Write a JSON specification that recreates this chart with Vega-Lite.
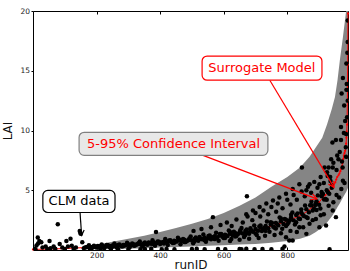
{
"$schema":"https://vega.github.io/schema/vega-lite/v6.json",
"width":315,"height":239,
"autosize":{"type":"none"},
"padding":{"left":33,"top":11,"right":2,"bottom":21},
"config":{"view":{"stroke":"black","strokeWidth":1},
"axis":{"domain":false,"grid":false,"labelFont":"DejaVu Sans","labelFontSize":7.5,"labelColor":"#222","titleFont":"DejaVu Sans","titleFontSize":12,"titleFontWeight":"normal","titleColor":"#111","tickColor":"black","tickWidth":1},
"text":{"font":"DejaVu Sans"}},
"resolve":{"axis":{"x":"independent","y":"independent"}},
"datasets":{
"ci":[{"r":160,"lo":0.2,"hi":0.2},{"r":200,"lo":0.05,"hi":0.45},{"r":250,"lo":0.08,"hi":0.7},{"r":300,"lo":0.1,"hi":0.95},{"r":350,"lo":0.15,"hi":1.2},{"r":400,"lo":0.2,"hi":1.5},{"r":450,"lo":0.25,"hi":1.85},{"r":500,"lo":0.3,"hi":2.2},{"r":550,"lo":0.35,"hi":2.6},{"r":600,"lo":0.4,"hi":3.1},{"r":650,"lo":0.45,"hi":3.7},{"r":700,"lo":0.5,"hi":4.4},{"r":750,"lo":0.6,"hi":5.3},{"r":800,"lo":0.75,"hi":6.1},{"r":840,"lo":0.95,"hi":6.9},{"r":870,"lo":1.2,"hi":7.8},{"r":890,"lo":1.5,"hi":8.6},{"r":910,"lo":1.9,"hi":9.4},{"r":925,"lo":2.3,"hi":10.5},{"r":940,"lo":2.8,"hi":11.8},{"r":950,"lo":3.2,"hi":12.8},{"r":958,"lo":3.6,"hi":14.2},{"r":965,"lo":3.9,"hi":15.8},{"r":975,"lo":4.4,"hi":17.8},{"r":986,"lo":4.9,"hi":20.2},{"r":991,"lo":5.2,"hi":21}],
"sur":[{"r":0,"s":0.05},{"r":50,"s":0.08},{"r":100,"s":0.12},{"r":160,"s":0.2},{"r":200,"s":0.28},{"r":250,"s":0.35},{"r":300,"s":0.42},{"r":350,"s":0.52},{"r":400,"s":0.62},{"r":450,"s":0.72},{"r":500,"s":0.85},{"r":550,"s":1.0},{"r":600,"s":1.18},{"r":650,"s":1.4},{"r":700,"s":1.65},{"r":750,"s":2.0},{"r":800,"s":2.4},{"r":850,"s":3.0},{"r":880,"s":3.6},{"r":900,"s":4.0},{"r":920,"s":4.6},{"r":941,"s":5.25},{"r":946,"s":5.45},{"r":951,"s":5.65},{"r":954,"s":5.9},{"r":957,"s":6.1},{"r":961,"s":6.25},{"r":964,"s":6.4},{"r":967,"s":6.6},{"r":970,"s":6.8},{"r":972,"s":7.0},{"r":974,"s":7.3},{"r":976,"s":7.6},{"r":978,"s":7.9},{"r":980,"s":8.1},{"r":982,"s":8.3},{"r":984,"s":8.6},{"r":985,"s":8.9},{"r":986,"s":9.4},{"r":987,"s":9.9},{"r":988,"s":10.5},{"r":989,"s":12.5},{"r":990,"s":15.5},{"r":991,"s":19.8}],
"clm":[
{"r":5,"v":0.1},{"r":8,"v":0.05},{"r":11,"v":0.38},{"r":15,"v":1.05},{"r":16,"v":0.55},{"r":20,"v":0.75},{"r":26,"v":0.65},{"r":30,"v":0.2},{"r":40,"v":0.3},{"r":45,"v":0.08},{"r":52,"v":0.75},{"r":55,"v":0.15},{"r":65,"v":0.3},{"r":70,"v":0.1},{"r":78,"v":2.15},{"r":84,"v":0.5},{"r":92,"v":0.2},{"r":100,"v":0.08},{"r":105,"v":0.75},{"r":110,"v":0.3},{"r":118,"v":0.95},{"r":122,"v":0.35},{"r":128,"v":0.1},{"r":135,"v":0.2},{"r":147,"v":1.6},{"r":149,"v":1.45},{"r":150,"v":1.35},{"r":155,"v":0.65},{"r":160,"v":0.15},
{"r":180,"v":0.08},{"r":212,"v":0.06},{"r":245,"v":0.1},{"r":268,"v":0.07},{"r":300,"v":0.09},{"r":338,"v":0.06},{"r":352,"v":0.08},{"r":372,"v":0.1},{"r":405,"v":0.07},{"r":420,"v":0.09},{"r":445,"v":0.06},{"r":500,"v":0.08},{"r":515,"v":0.1},{"r":540,"v":0.06},{"r":582,"v":0.09},{"r":605,"v":0.07},{"r":650,"v":0.08},{"r":656,"v":0.06},{"r":671,"v":0.1},{"r":697,"v":0.07},{"r":722,"v":0.09},{"r":750,"v":0.06},{"r":785,"v":0.1},{"r":933,"v":0.07},
{"r":164,"v":0.22},{"r":172,"v":0.25},{"r":180,"v":0.24},{"r":188,"v":0.27},{"r":196,"v":0.26},{"r":204,"v":0.3},{"r":212,"v":0.28},{"r":220,"v":0.33},{"r":228,"v":0.3},{"r":236,"v":0.35},{"r":244,"v":0.32},{"r":252,"v":0.37},{"r":260,"v":0.35},{"r":268,"v":0.4},{"r":276,"v":0.36},{"r":284,"v":0.42},{"r":292,"v":0.39},{"r":300,"v":0.45},{"r":308,"v":0.41},{"r":316,"v":0.48},{"r":324,"v":0.44},{"r":332,"v":0.52},{"r":340,"v":0.47},{"r":348,"v":0.55},{"r":356,"v":0.5},{"r":364,"v":0.59},{"r":372,"v":0.53},{"r":380,"v":0.62},{"r":388,"v":0.57},{"r":396,"v":0.65},{"r":404,"v":0.6},{"r":412,"v":0.69},{"r":420,"v":0.63},{"r":428,"v":0.73},{"r":436,"v":0.66},{"r":444,"v":0.77},{"r":452,"v":0.7},{"r":460,"v":0.81},{"r":468,"v":0.74},{"r":476,"v":0.85},{"r":484,"v":0.76},{"r":492,"v":0.89},{"r":500,"v":0.8},{"r":508,"v":0.93},{"r":516,"v":0.85},{"r":524,"v":0.99},{"r":532,"v":0.9},{"r":540,"v":1.05},{"r":548,"v":0.95},{"r":556,"v":1.1},{"r":564,"v":1.0},{"r":572,"v":1.16},{"r":580,"v":1.06},{"r":588,"v":1.22},{"r":596,"v":1.1},{"r":604,"v":1.27},{"r":612,"v":1.17},{"r":620,"v":1.36},{"r":628,"v":1.24},{"r":636,"v":1.43},{"r":644,"v":1.31},{"r":652,"v":1.51},{"r":660,"v":1.38},{"r":668,"v":1.59},{"r":676,"v":1.45},{"r":684,"v":1.67},{"r":692,"v":1.52},{"r":700,"v":1.75},{"r":708,"v":1.61},{"r":716,"v":1.88},{"r":724,"v":1.72},{"r":732,"v":2.01},{"r":740,"v":1.83},{"r":748,"v":2.14},{"r":756,"v":1.95},{"r":764,"v":2.27},{"r":772,"v":2.06},{"r":780,"v":2.4},{"r":788,"v":2.17},{"r":796,"v":2.53},{"r":804,"v":2.3},{"r":812,"v":2.72},{"r":820,"v":2.48},{"r":828,"v":2.93},{"r":836,"v":2.64},{"r":844,"v":3.13},{"r":852,"v":2.85},{"r":860,"v":3.42},{"r":868,"v":3.15},{"r":876,"v":3.75},{"r":884,"v":3.45},{"r":892,"v":4.08},{"r":900,"v":3.78},{"r":908,"v":4.5},{"r":916,"v":4.22},{"r":924,"v":5.0},{"r":932,"v":4.7},{"r":940,"v":5.45},
{"r":168,"v":0.23},{"r":176,"v":0.39},{"r":184,"v":0.12},{"r":192,"v":0.35},{"r":200,"v":0.2},{"r":208,"v":0.29},{"r":216,"v":0.46},{"r":224,"v":0.15},{"r":232,"v":0.41},{"r":240,"v":0.26},{"r":248,"v":0.35},{"r":256,"v":0.54},{"r":264,"v":0.19},{"r":272,"v":0.47},{"r":280,"v":0.3},{"r":288,"v":0.4},{"r":296,"v":0.61},{"r":304,"v":0.23},{"r":312,"v":0.54},{"r":320,"v":0.36},{"r":328,"v":0.48},{"r":336,"v":0.71},{"r":344,"v":0.29},{"r":352,"v":0.63},{"r":360,"v":0.43},{"r":368,"v":0.56},{"r":376,"v":0.81},{"r":384,"v":0.35},{"r":392,"v":0.72},{"r":400,"v":0.5},{"r":408,"v":0.64},{"r":416,"v":0.92},{"r":424,"v":0.42},{"r":432,"v":0.82},{"r":440,"v":0.58},{"r":448,"v":0.73},{"r":456,"v":1.03},{"r":464,"v":0.49},{"r":472,"v":0.93},{"r":480,"v":0.66},{"r":488,"v":0.82},{"r":496,"v":1.14},{"r":504,"v":0.56},{"r":512,"v":1.04},{"r":520,"v":0.77},{"r":528,"v":0.94},{"r":536,"v":1.29},{"r":544,"v":0.68},{"r":552,"v":1.18},{"r":560,"v":0.89},{"r":568,"v":1.08},{"r":576,"v":1.45},{"r":584,"v":0.78},{"r":592,"v":1.33},{"r":600,"v":1.01},{"r":608,"v":1.22},{"r":616,"v":1.64},{"r":624,"v":0.92},{"r":632,"v":1.52},{"r":640,"v":1.18},{"r":648,"v":1.41},{"r":656,"v":1.84},{"r":664,"v":1.08},{"r":672,"v":1.72},{"r":680,"v":1.36},{"r":688,"v":1.59},{"r":696,"v":2.06},{"r":704,"v":1.25},{"r":712,"v":1.96},{"r":720,"v":1.58},{"r":728,"v":1.86},{"r":736,"v":2.38},{"r":744,"v":1.52},{"r":752,"v":2.27},{"r":760,"v":1.87},{"r":768,"v":2.16},{"r":776,"v":2.72},{"r":784,"v":1.78},{"r":792,"v":2.59},{"r":800,"v":2.15},{"r":808,"v":2.5},{"r":816,"v":3.14},{"r":824,"v":2.14},{"r":832,"v":3.06},{"r":840,"v":2.6},{"r":848,"v":2.98},{"r":856,"v":3.72},{"r":864,"v":2.68},{"r":872,"v":3.74},{"r":880,"v":3.3},{"r":888,"v":3.76},{"r":896,"v":4.57},{"r":904,"v":3.47},{"r":912,"v":4.69},{"r":920,"v":4.27},{"r":928,"v":4.84},{"r":936,"v":5.78},
{"r":172,"v":0.27},{"r":188,"v":0.22},{"r":204,"v":0.33},{"r":220,"v":0.26},{"r":236,"v":0.39},{"r":252,"v":0.3},{"r":268,"v":0.43},{"r":284,"v":0.33},{"r":300,"v":0.49},{"r":316,"v":0.38},{"r":332,"v":0.56},{"r":348,"v":0.44},{"r":364,"v":0.63},{"r":380,"v":0.49},{"r":396,"v":0.7},{"r":412,"v":0.55},{"r":428,"v":0.79},{"r":444,"v":0.61},{"r":460,"v":0.88},{"r":476,"v":0.67},{"r":492,"v":0.96},{"r":508,"v":0.73},{"r":524,"v":1.08},{"r":540,"v":0.82},{"r":556,"v":1.21},{"r":572,"v":0.91},{"r":588,"v":1.33},{"r":604,"v":1.0},{"r":620,"v":1.5},{"r":636,"v":1.13},{"r":652,"v":1.66},{"r":668,"v":1.25},{"r":684,"v":1.83},{"r":700,"v":1.38},{"r":716,"v":2.05},{"r":732,"v":1.6},{"r":748,"v":2.33},{"r":764,"v":1.8},{"r":780,"v":2.63},{"r":796,"v":2.0},{"r":812,"v":2.95},{"r":828,"v":2.33},{"r":844,"v":3.4},{"r":860,"v":2.75},{"r":876,"v":4.05},{"r":892,"v":3.35},{"r":908,"v":4.85},{"r":924,"v":4.2},{"r":940,"v":5.2},
{"r":387,"v":1.5},{"r":566,"v":2.75},{"r":673,"v":4.5},{"r":846,"v":6.9},{"r":817,"v":0.8},
{"r":505,"v":1.6},{"r":530,"v":1.75},{"r":560,"v":1.9},{"r":590,"v":2.1},{"r":610,"v":2.3},{"r":625,"v":2.0},{"r":640,"v":2.55},{"r":660,"v":2.3},{"r":675,"v":2.8},{"r":690,"v":2.5},{"r":700,"v":3.1},{"r":715,"v":2.8},{"r":725,"v":3.3},{"r":740,"v":3.0},{"r":750,"v":3.6},{"r":765,"v":3.2},{"r":770,"v":3.9},{"r":785,"v":3.5},{"r":800,"v":4.2},{"r":810,"v":3.8},{"r":820,"v":4.6},{"r":830,"v":4.2},{"r":845,"v":4.9},{"r":855,"v":4.5},{"r":865,"v":5.3},{"r":875,"v":4.8},{"r":885,"v":5.7},{"r":895,"v":5.2},{"r":905,"v":6.1},{"r":915,"v":5.6},{"r":925,"v":6.5},{"r":935,"v":6.1},{"r":945,"v":7.3},{"r":955,"v":6.7},{"r":965,"v":8.2},{"r":972,"v":7.4},{"r":978,"v":9.8},{"r":982,"v":10.8},{"r":984,"v":8.6},{"r":987,"v":13.9},{"r":989,"v":16.5},
{"r":620,"v":0.75},{"r":650,"v":0.85},{"r":680,"v":0.95},{"r":710,"v":1.0},{"r":730,"v":1.2},{"r":760,"v":1.25},{"r":780,"v":1.4},{"r":796,"v":1.07},{"r":806,"v":0.8},{"r":791,"v":0.3},{"r":810,"v":1.6},{"r":830,"v":1.5},{"r":838,"v":1.9},{"r":850,"v":1.9},{"r":860,"v":1.35},{"r":870,"v":2.2},{"r":880,"v":2.5},{"r":890,"v":2.6},{"r":901,"v":1.9},{"r":905,"v":2.9},{"r":915,"v":3.0},{"r":922,"v":2.05},{"r":930,"v":3.7},{"r":943,"v":3.3},{"r":945,"v":4.0},{"r":953,"v":2.75},{"r":955,"v":4.6},{"r":963,"v":4.4},{"r":970,"v":5.1},{"r":980,"v":5.6},
{"r":953,"v":9.2},{"r":969,"v":10.3},{"r":961,"v":7.6},{"r":943,"v":6.9},{"r":975,"v":5.8},{"r":910,"v":4.7},{"r":927,"v":6.2},{"r":901,"v":5.5},{"r":890,"v":3.9},{"r":870,"v":5.5},{"r":860,"v":5.0},{"r":838,"v":5.5},{"r":817,"v":5.1},{"r":796,"v":4.7},{"r":775,"v":4.4},{"r":755,"v":4.15},{"r":734,"v":3.9},{"r":713,"v":3.6},{"r":692,"v":3.3},{"r":671,"v":3.0},
{"r":979,"v":12.1},{"r":988,"v":11.1},{"r":969,"v":9.2},{"r":942,"v":9.0},{"r":985,"v":9.7},{"r":957,"v":7.9},{"r":938,"v":7.6},{"r":917,"v":6.9},{"r":930,"v":6.9},{"r":974,"v":6.9},{"r":985,"v":7.8},{"r":990,"v":19.2},{"r":990,"v":17.4},{"r":986,"v":15.6},{"r":975,"v":14.4},{"r":971,"v":13.1},{"r":986,"v":13.4},{"r":990,"v":12.5}
]},
"layer":[
{"data":{"name":"ci"},"mark":{"type":"area","color":"#858585","clip":true},
 "encoding":{"x":{"field":"r","type":"quantitative","scale":{"domain":[0,991],"nice":false,"zero":false},"axis":{"orient":"bottom","values":[200,400,600,800],"title":"runID","tickSize":3,"offset":-3,"labelPadding":1,"titlePadding":1}},
  "y":{"field":"lo","type":"quantitative","scale":{"domain":[0,20],"nice":false},"axis":{"orient":"left","values":[5,10,15,20],"title":"LAI","tickSize":2,"labelPadding":1.5,"titlePadding":5}},
  "y2":{"field":"hi"}}},
{"data":{"name":"sur"},"mark":{"type":"line","color":"red","strokeWidth":1,"point":{"filled":true,"size":5,"color":"red"}},
 "encoding":{"x":{"field":"r","type":"quantitative","axis":null},"y":{"field":"s","type":"quantitative","axis":null}}},
{"data":{"name":"clm"},"mark":{"type":"circle","color":"black","size":20,"opacity":1,"clip":true},
 "encoding":{"x":{"field":"r","type":"quantitative","axis":{"orient":"top","labels":false,"title":null,"values":[200,400,600,800],"tickSize":3,"offset":-3}},"y":{"field":"v","type":"quantitative","axis":null}}},
{"data":{"values":[{"a":745,"b":947,"c":14.21,"d":5.24}]},"mark":{"type":"rule","color":"red","strokeWidth":1.2},
 "encoding":{"x":{"field":"a","type":"quantitative","axis":null},"x2":{"field":"b"},"y":{"field":"c","type":"quantitative","axis":null},"y2":{"field":"d"}}},
{"data":{"values":[{"a":947,"c":5.24}]},"mark":{"type":"point","shape":"M-0.55,1L0,0L0.55,1","filled":false,"stroke":"red","strokeWidth":1.2,"size":130,"angle":149,"opacity":1},
 "encoding":{"x":{"field":"a","type":"quantitative","axis":null},"y":{"field":"c","type":"quantitative","axis":null}}},
{"data":{"values":[{"a":535,"b":893,"c":7.92,"d":4.28}]},"mark":{"type":"rule","color":"red","strokeWidth":1.2},
 "encoding":{"x":{"field":"a","type":"quantitative","axis":null},"x2":{"field":"b"},"y":{"field":"c","type":"quantitative","axis":null},"y2":{"field":"d"}}},
{"data":{"values":[{"a":893,"c":4.28}]},"mark":{"type":"point","shape":"M-0.55,1L0,0L0.55,1","filled":false,"stroke":"red","strokeWidth":1.2,"size":130,"angle":111,"opacity":1},
 "encoding":{"x":{"field":"a","type":"quantitative","axis":null},"y":{"field":"c","type":"quantitative","axis":null}}},
{"data":{"values":[{"a":148,"b":153,"c":3.14,"d":1.22}]},"mark":{"type":"rule","color":"black","strokeWidth":1.2},
 "encoding":{"x":{"field":"a","type":"quantitative","axis":null},"x2":{"field":"b"},"y":{"field":"c","type":"quantitative","axis":null},"y2":{"field":"d"}}},
{"data":{"values":[{"a":153,"c":1.22}]},"mark":{"type":"point","shape":"M-0.55,1L0,0L0.55,1","filled":false,"stroke":"black","strokeWidth":1.2,"size":110,"angle":176,"opacity":1},
 "encoding":{"x":{"field":"a","type":"quantitative","axis":null},"y":{"field":"c","type":"quantitative","axis":null}}},
{"data":{"values":[{"a":532,"b":909,"c":16.23,"d":14.21}]},"mark":{"type":"rect","fill":"white","stroke":"red","strokeWidth":1.2,"cornerRadius":5},
 "encoding":{"x":{"field":"a","type":"quantitative","axis":null},"x2":{"field":"b"},"y":{"field":"c","type":"quantitative","axis":null},"y2":{"field":"d"}}},
{"data":{"values":[{"a":145,"b":739,"c":9.85,"d":7.92}]},"mark":{"type":"rect","fill":"#e8e8e8","stroke":"#808080","strokeWidth":1.2,"cornerRadius":5},
 "encoding":{"x":{"field":"a","type":"quantitative","axis":null},"x2":{"field":"b"},"y":{"field":"c","type":"quantitative","axis":null},"y2":{"field":"d"}}},
{"data":{"values":[{"a":31,"b":258,"c":4.99,"d":3.14}]},"mark":{"type":"rect","fill":"white","stroke":"black","strokeWidth":1.2,"cornerRadius":5},
 "encoding":{"x":{"field":"a","type":"quantitative","axis":null},"x2":{"field":"b"},"y":{"field":"c","type":"quantitative","axis":null},"y2":{"field":"d"}}},
{"data":{"values":[{"a":720,"c":15.22,"t":"Surrogate Model"}]},"mark":{"type":"text","color":"red","fontSize":13,"font":"DejaVu Sans","align":"center","baseline":"middle"},
 "encoding":{"x":{"field":"a","type":"quantitative","axis":null},"y":{"field":"c","type":"quantitative","axis":null},"text":{"field":"t"}}},
{"data":{"values":[{"a":442,"c":8.89,"t":"5-95% Confidence Interval"}]},"mark":{"type":"text","color":"red","fontSize":13,"font":"DejaVu Sans","align":"center","baseline":"middle"},
 "encoding":{"x":{"field":"a","type":"quantitative","axis":null},"y":{"field":"c","type":"quantitative","axis":null},"text":{"field":"t"}}},
{"data":{"values":[{"a":145,"c":4.07,"t":"CLM data"}]},"mark":{"type":"text","color":"black","fontSize":13,"font":"DejaVu Sans","align":"center","baseline":"middle"},
 "encoding":{"x":{"field":"a","type":"quantitative","axis":null},"y":{"field":"c","type":"quantitative","axis":null},"text":{"field":"t"}}}
]
}
